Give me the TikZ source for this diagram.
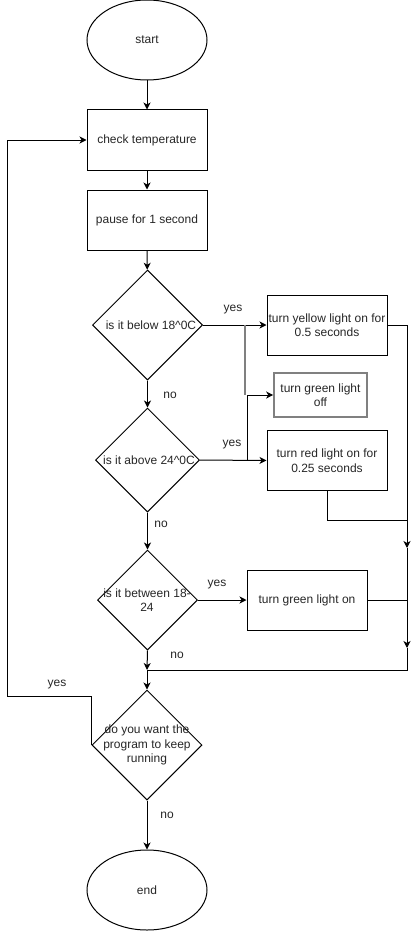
\documentclass[tikz,border=0pt]{standalone}
\usepackage{fontspec}
\setmainfont{Liberation Sans}
\usetikzlibrary{shapes.geometric,arrows.meta}
\begin{document}
\begin{tikzpicture}[x=1pt,y=-1pt,
  every node/.style={font=\fontsize{12}{14.5}\selectfont, text=black!85},
  base/.style={draw=black, line width=1pt, inner sep=0pt},
  term/.style={base, ellipse, minimum width=120pt, minimum height=80pt},
  proc/.style={base, rectangle, minimum width=120pt, minimum height=60pt, align=center},
  dec/.style={base, diamond, minimum width=#1, minimum height=#1},
  lbl/.style={align=center, inner sep=0pt},
  arr/.style={draw=black, line width=1pt, -{Stealth[length=7pt,width=7pt,inset=2pt]}},
  ln/.style={draw=black, line width=1pt}]
\useasboundingbox (0,0) rectangle (417,931);
% nodes
\node[term] (start) at (147,40) {start};
\node[proc] (check) at (147,140) {check temperature};
\node[proc] (pause) at (147,220) {pause for 1 second};
\node[dec=110pt] (d1) at (147.5,325) {};
\node[lbl] (t1) at (151,325) {is it below 18\textasciicircum 0C};
\node[proc] (yellow) at (327,325) {turn yellow light on for\\0.5 seconds};
\node[base, draw=black!50, line width=1.6pt, minimum width=93pt, minimum height=44pt, align=center] (goff) at (320.5,395) {turn green light\\off};
\node[dec=104pt] (d2) at (147.5,460) {};
\node[lbl] (t2) at (149,460) {is it above 24\textasciicircum 0C};
\node[proc] (red) at (327,460.5) {turn red light on for\\0.25 seconds};
\node[dec=100pt] (d3) at (147.5,600) {};
\node[lbl] (t3) at (147,600) {is it between 18-\\24};
\node[proc] (gon) at (307,600) {turn green light on};
\node[dec=110pt] (d4) at (147,745) {};
\node[lbl] (t4) at (147,745) {do you want the\\program to keep\\running};
\node[term] (end) at (147,890) {end};
% coordinates
\coordinate (ja) at (245,325);
\coordinate (jb) at (247,460);
\coordinate (r1) at (407,548);
\coordinate (r2) at (407,648);
\coordinate (j3) at (147,670);
\coordinate (lp) at (7,696);
% connectors
\draw[arr] (start) -- (check);
\draw[arr] (check) -- (pause);
\draw[arr] (pause) -- (d1);
\draw[arr] (d1.east) -- (yellow.west);
\draw[draw=black!50, line width=1.6pt] (ja) -- (ja |- goff.west);
\draw[arr] (jb) -- (jb |- goff.west) -- (goff.west);
\draw[arr] (d1.south) -- (d2.north);
\draw[arr] (d2.east) -- (red.west);
\draw[arr] (yellow.east) -| (r1);
\draw[ln] (red.south) |- (407,520);
\draw[arr] (r1) -- (r2);
\draw[ln] (gon.east) -- (gon.east -| r2);
\draw[ln] (r2) |- (j3);
\draw[arr] (d2.south) -- (d3.north);
\draw[arr] (d3.east) -- (gon.west);
\draw[arr] (d3.south) -- (j3);
\draw[arr] (j3) -- (d4.north);
\draw[arr] (d4.west) |- (lp) |- (check.west);
\draw[arr] (d4.south) -- (end.north);
% labels
\node[lbl] (y1) at (233,310) {yes};
\node[lbl] (n1) at (170,395) {no};
\node[lbl] (y2) at (232,445) {yes};
\node[lbl] (n2) at (161,524) {no};
\node[lbl] (y3) at (217,585) {yes};
\node[lbl] (n3) at (177,655) {no};
\node[lbl] (y4) at (57,685) {yes};
\node[lbl] (n4) at (167,815) {no};
\end{tikzpicture}
\end{document}
